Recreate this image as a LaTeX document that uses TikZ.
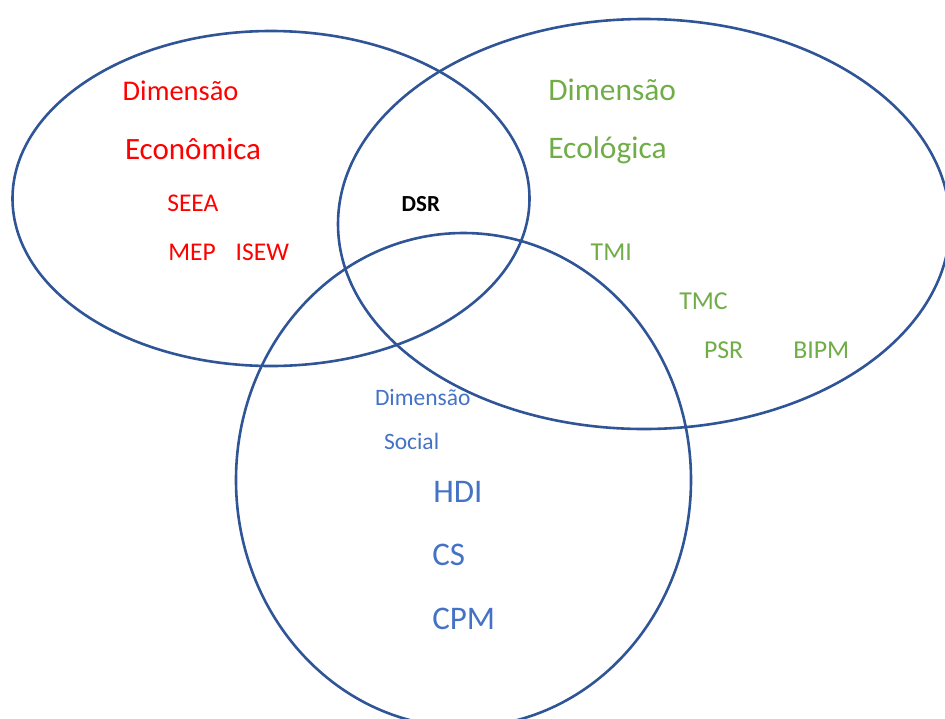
\documentclass[tikz,border=0pt]{standalone}
\usepackage{fontspec}
\setmainfont{Carlito}
\definecolor{ringblue}{HTML}{2F5597}
\definecolor{ecored}{HTML}{FF0000}
\definecolor{ecogreen}{HTML}{70AD47}
\definecolor{socblue}{HTML}{4472C4}
\begin{document}
\begin{tikzpicture}[x=1pt,y=-1pt,
  ring/.style={draw=ringblue,line width=2.6pt},
  lbl/.style={anchor=base west,inner sep=0pt,outer sep=0pt},
  red/.style={lbl,text=ecored},
  green/.style={lbl,text=ecogreen},
  blue/.style={lbl,text=socblue}]
\useasboundingbox (0,0) rectangle (945,718);
\clip (0,0) rectangle (945,718);
% rings
\draw[ring] (271,198.5) ellipse [x radius=258.5, y radius=167.5];
\draw[ring] (644,224) ellipse [x radius=306, y radius=205];
\draw[ring] (463.5,480) ellipse [x radius=227.5, y radius=247];
% economic
\node[red,font=\fontsize{28.5}{30}\selectfont] (ecoA) at (122.7,100) {Dimensão};
\node[red,font=\fontsize{31}{33}\selectfont] (ecoB) at (125,159) {Econômica};
\node[red,font=\fontsize{25.5}{27}\selectfont] (seea) at (167.3,211.7) {SEEA};
\node[red,font=\fontsize{25.5}{27}\selectfont] (mep) at (168.3,260.7) {MEP};
\node[red,font=\fontsize{25.5}{27}\selectfont] (isew) at (235.7,260.7) {ISEW};
% DSR
\node[lbl,font=\bfseries\fontsize{23}{25}\selectfont] (dsr) at (401.7,211.7) {DSR};
% ecological
\node[green,font=\fontsize{31.4}{33}\selectfont] (ecolA) at (548.3,100) {Dimensão};
\node[green,font=\fontsize{31.4}{33}\selectfont] (ecolB) at (548.3,158.3) {Ecológica};
\node[green,font=\fontsize{25.8}{27}\selectfont] (tmi) at (590.7,260) {TMI};
\node[green,font=\fontsize{25.8}{27}\selectfont] (tmc) at (679.3,309.3) {TMC};
\node[green,font=\fontsize{25.8}{27}\selectfont] (psr) at (704,358.3) {PSR};
\node[green,font=\fontsize{25.8}{27}\selectfont] (bipm) at (793.3,358.3) {BIPM};
% social
\node[blue,font=\fontsize{23.5}{25}\selectfont] (socA) at (375,405) {Dimensão};
\node[blue,font=\fontsize{23.5}{25}\selectfont] (socB) at (384,449.3) {Social};
\node[blue,font=\fontsize{33}{35}\selectfont] (hdi) at (433.3,502.7) {HDI};
\node[blue,font=\fontsize{33}{35}\selectfont] (cs) at (432.3,565.7) {CS};
\node[blue,font=\fontsize{33}{35}\selectfont] (cpm) at (432.3,629.3) {CPM};
\end{tikzpicture}
\end{document}
